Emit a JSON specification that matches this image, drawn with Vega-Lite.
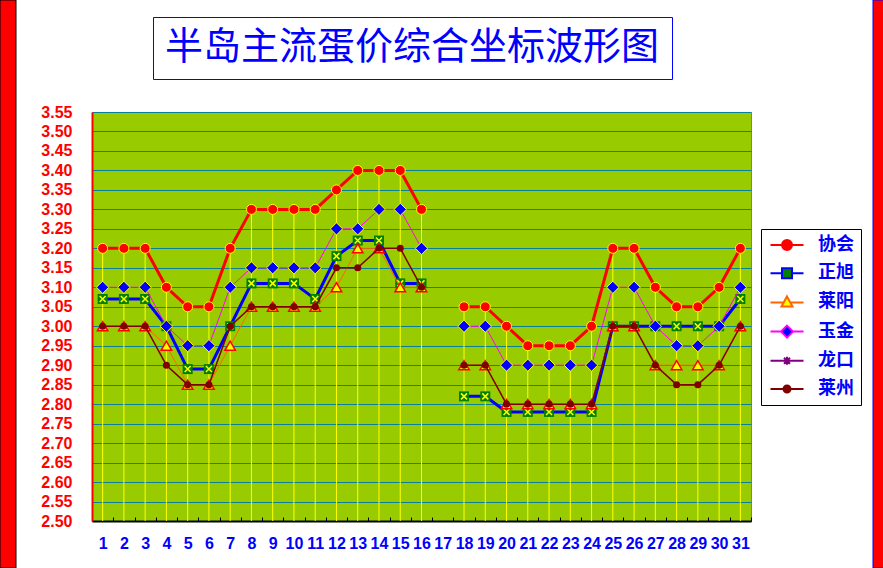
{
  "$schema": "https://vega.github.io/schema/vega-lite/v6.json",
  "width": 659,
  "height": 409,
  "autosize": {"type": "none"},
  "padding": {"left": 92, "top": 112, "right": 132, "bottom": 47},
  "background": "white",
  "config": {
    "view": {"fill": "#99CC00", "stroke": "#808080", "strokeWidth": 1}
  },
  "data": {
    "values": [
      {"day": 1, "协会": 3.20, "正旭": 3.07, "莱阳": 3.00, "玉金": 3.10, "莱州": 3.00},
      {"day": 2, "协会": 3.20, "正旭": 3.07, "莱阳": 3.00, "玉金": 3.10, "莱州": 3.00},
      {"day": 3, "协会": 3.20, "正旭": 3.07, "莱阳": 3.00, "玉金": 3.10, "莱州": 3.00},
      {"day": 4, "协会": 3.10, "正旭": 3.00, "莱阳": 2.95, "玉金": 3.00, "莱州": 2.90},
      {"day": 5, "协会": 3.05, "正旭": 2.89, "莱阳": 2.85, "玉金": 2.95, "莱州": 2.85},
      {"day": 6, "协会": 3.05, "正旭": 2.89, "莱阳": 2.85, "玉金": 2.95, "莱州": 2.85},
      {"day": 7, "协会": 3.20, "正旭": 3.00, "莱阳": 2.95, "玉金": 3.10, "莱州": 3.00},
      {"day": 8, "协会": 3.30, "正旭": 3.11, "莱阳": 3.05, "玉金": 3.15, "莱州": 3.05},
      {"day": 9, "协会": 3.30, "正旭": 3.11, "莱阳": 3.05, "玉金": 3.15, "莱州": 3.05},
      {"day": 10, "协会": 3.30, "正旭": 3.11, "莱阳": 3.05, "玉金": 3.15, "莱州": 3.05},
      {"day": 11, "协会": 3.30, "正旭": 3.07, "莱阳": 3.05, "玉金": 3.15, "莱州": 3.05},
      {"day": 12, "协会": 3.35, "正旭": 3.18, "莱阳": 3.10, "玉金": 3.25, "莱州": 3.15},
      {"day": 13, "协会": 3.40, "正旭": 3.22, "莱阳": 3.20, "玉金": 3.25, "莱州": 3.15},
      {"day": 14, "协会": 3.40, "正旭": 3.22, "莱阳": 3.20, "玉金": 3.30, "莱州": 3.20},
      {"day": 15, "协会": 3.40, "正旭": 3.11, "莱阳": 3.10, "玉金": 3.30, "莱州": 3.20},
      {"day": 16, "协会": 3.30, "正旭": 3.11, "莱阳": 3.10, "玉金": 3.20, "莱州": 3.10},
      {"day": 17, "协会": null, "正旭": null, "莱阳": null, "玉金": null, "莱州": null},
      {"day": 18, "协会": 3.05, "正旭": 2.82, "莱阳": 2.90, "玉金": 3.00, "莱州": 2.90},
      {"day": 19, "协会": 3.05, "正旭": 2.82, "莱阳": 2.90, "玉金": 3.00, "莱州": 2.90},
      {"day": 20, "协会": 3.00, "正旭": 2.78, "莱阳": 2.80, "玉金": 2.90, "莱州": 2.80},
      {"day": 21, "协会": 2.95, "正旭": 2.78, "莱阳": 2.80, "玉金": 2.90, "莱州": 2.80},
      {"day": 22, "协会": 2.95, "正旭": 2.78, "莱阳": 2.80, "玉金": 2.90, "莱州": 2.80},
      {"day": 23, "协会": 2.95, "正旭": 2.78, "莱阳": 2.80, "玉金": 2.90, "莱州": 2.80},
      {"day": 24, "协会": 3.00, "正旭": 2.78, "莱阳": 2.80, "玉金": 2.90, "莱州": 2.80},
      {"day": 25, "协会": 3.20, "正旭": 3.00, "莱阳": 3.00, "玉金": 3.10, "莱州": 3.00},
      {"day": 26, "协会": 3.20, "正旭": 3.00, "莱阳": 3.00, "玉金": 3.10, "莱州": 3.00},
      {"day": 27, "协会": 3.10, "正旭": 3.00, "莱阳": 2.90, "玉金": 3.00, "莱州": 2.90},
      {"day": 28, "协会": 3.05, "正旭": 3.00, "莱阳": 2.90, "玉金": 2.95, "莱州": 2.85},
      {"day": 29, "协会": 3.05, "正旭": 3.00, "莱阳": 2.90, "玉金": 2.95, "莱州": 2.85},
      {"day": 30, "协会": 3.10, "正旭": 3.00, "莱阳": 2.90, "玉金": 3.00, "莱州": 2.90},
      {"day": 31, "协会": 3.20, "正旭": 3.07, "莱阳": 3.00, "玉金": 3.10, "莱州": 3.00}
    ]
  },
  "transform": [
    {"fold": ["协会", "正旭", "莱阳", "玉金", "莱州"], "as": ["series", "price"]}
  ],
  "encoding": {
    "x": {
      "field": "day",
      "type": "ordinal",
      "title": null,
      "scale": {"type": "band", "domain": [1,2,3,4,5,6,7,8,9,10,11,12,13,14,15,16,17,18,19,20,21,22,23,24,25,26,27,28,29,30,31], "paddingInner": 0, "paddingOuter": 0},
      "axis": {
        "title": null,
        "tickBand": "extent",
        "labelAngle": 0,
        "grid": false,
        "domainColor": "#000000",
        "domainWidth": 2,
        "tickColor": "#000000",
        "tickSize": -4,
        "labelColor": "#0000FF",
        "labelFont": "Liberation Sans",
        "labelFontWeight": "bold",
        "labelFontSize": 16,
        "labelPadding": 18,
        "labelOverlap": false
      }
    },
    "y": {
      "field": "price",
      "type": "quantitative",
      "title": null,
      "scale": {"domain": [2.5, 3.55], "nice": false, "zero": false},
      "axis": {
        "title": null,
        "values": [2.5,2.55,2.6,2.65,2.7,2.75,2.8,2.85,2.9,2.95,3,3.05,3.1,3.15,3.2,3.25,3.3,3.35,3.4,3.45,3.5,3.55],
        "format": ".2f",
        "grid": true,
        "gridColor": "#0A7F99",
        "gridWidth": 1,
        "gridOpacity": 1,
        "domainColor": "#FF0000",
        "domainWidth": 2,
        "ticks": false,
        "labelColor": "#FF0000",
        "labelFont": "Liberation Sans",
        "labelFontWeight": "bold",
        "labelFontSize": 16,
        "labelPadding": 20,
        "labelOverlap": false
      }
    }
  },
  "resolve": {"scale": {"fill": "independent", "stroke": "independent", "shape": "independent", "size": "independent"}},
  "layer": [
    {
      "transform": [{"filter": "datum.series === '协会'"}],
      "mark": {"type": "rule", "color": "#FFFF00", "strokeWidth": 1},
      "encoding": {"y2": {"datum": 2.5}}
    },
    {
      "transform": [{"filter": "datum.series === '协会'"}],
      "mark": {"type": "line", "color": "#FF0000", "strokeWidth": 3, "invalid": "break-paths-show-domains"}
    },
    {
      "transform": [{"filter": "datum.series === '协会'"}],
      "mark": {"type": "point", "shape": "circle", "filled": true, "size": 100, "fill": "#FF0000", "stroke": "#FFFF00", "strokeWidth": 1, "opacity": 1}
    },
    {
      "transform": [{"filter": "datum.series === '正旭'"}],
      "mark": {"type": "line", "color": "#0000FF", "strokeWidth": 3, "invalid": "break-paths-show-domains"}
    },
    {
      "transform": [{"filter": "datum.series === '正旭'"}],
      "mark": {"type": "point", "shape": "square", "filled": true, "size": 100, "fill": "#008000", "strokeWidth": 0, "opacity": 1}
    },
    {
      "transform": [{"filter": "datum.series === '正旭'"}],
      "mark": {"type": "point", "shape": "M-0.6,-0.6L0.6,0.6M0.6,-0.6L-0.6,0.6", "filled": false, "size": 100, "stroke": "#FFFF00", "strokeWidth": 1.5, "opacity": 1}
    },
    {
      "transform": [{"filter": "datum.series === '莱阳'"}],
      "mark": {"type": "line", "color": "#FF6600", "strokeWidth": 1, "invalid": "break-paths-show-domains"}
    },
    {
      "transform": [{"filter": "datum.series === '莱阳'"}],
      "mark": {"type": "point", "shape": "triangle-up", "filled": true, "size": 110, "fill": "#FFFF00", "stroke": "#FF0000", "strokeWidth": 1.5, "opacity": 1}
    },
    {
      "transform": [{"filter": "datum.series === '玉金'"}],
      "mark": {"type": "line", "color": "#FF00FF", "strokeWidth": 1, "invalid": "break-paths-show-domains"}
    },
    {
      "transform": [{"filter": "datum.series === '玉金'"}],
      "mark": {"type": "point", "shape": "diamond", "filled": true, "size": 150, "fill": "#0000FF", "stroke": "#FFFF00", "strokeWidth": 1, "opacity": 1}
    },
    {
      "transform": [{"filter": "datum.series === '莱州'"}],
      "mark": {"type": "line", "color": "#800000", "strokeWidth": 1.5, "invalid": "break-paths-show-domains"}
    },
    {
      "transform": [{"filter": "datum.series === '莱州'"}],
      "mark": {"type": "point", "shape": "circle", "filled": true, "size": 50, "fill": "#800000", "strokeWidth": 0, "opacity": 1}
    },
    {
      "transform": [{"filter": "false"}],
      "mark": {"type": "point", "filled": true, "opacity": 1},
      "encoding": {
        "fill": {
          "field": "series",
          "type": "nominal",
          "scale": {"domain": ["协会","正旭","莱阳","玉金","龙口","莱州"], "range": ["#FF0000","#008000","#FFFF00","#0000FF","#800080","#800000"]},
          "legend": {
            "title": null,
            "orient": "none",
            "legendX": 669,
            "legendY": 117,
            "direction": "vertical",
            "strokeColor": "#000000",
            "fillColor": "#FFFFFF",
            "padding": 7,
            "symbolSize": 100,
            "symbolStrokeWidth": 2,
            "symbolOffset": 10,
            "labelOffset": 22,
            "labelFont": "Noto Sans CJK SC",
            "labelFontSize": 18,
            "labelFontWeight": "bold",
            "labelColor": "#0000FF",
            "rowPadding": 10.2,
            "labelLimit": 100
          }
        },
        "stroke": {
          "field": "series",
          "type": "nominal",
          "scale": {"domain": ["协会","正旭","莱阳","玉金","龙口","莱州"], "range": ["#FF0000","#0000FF","#FF6600","#FF00FF","#800080","#800000"]},
          "legend": {"title": null}
        },
        "shape": {
          "field": "series",
          "type": "nominal",
          "scale": {
            "domain": ["协会","正旭","莱阳","玉金","龙口","莱州"],
            "range": [
              "M-3.3,0H-1M1,0H3.3M-1,0A1,1,0,1,0,1,0A1,1,0,1,0,-1,0Z",
              "M-3.3,0H-1M1,0H3.3M-1,-1H1V1H-1Z",
              "M-3.3,0H-0.6M0.6,0H3.3M0,-1.2L1.1,0.8H-1.1Z",
              "M-3.3,0H-1.2M1.2,0H3.3M0,-1.2L1.2,0L0,1.2L-1.2,0Z",
              "M-3.3,0H3.3M-0.6,-0.6L0.6,0.6M0.6,-0.6L-0.6,0.6M0,-0.8V0.8",
              "M-3.3,0H-0.7M0.7,0H3.3M-0.7,0A0.7,0.7,0,1,0,0.7,0A0.7,0.7,0,1,0,-0.7,0Z"
            ]
          },
          "legend": {"title": null}
        }
      }
    },
    {
      "transform": [{"filter": "false"}],
      "mark": {"type": "point", "filled": true, "opacity": 1},
      "encoding": {
        "fill": {
          "field": "day",
          "type": "quantitative",
          "scale": {"domain": [0, 1], "range": ["#FF0000", "#FF0000"]},
          "legend": {
            "title": null,
            "orient": "none",
            "legendX": -92,
            "legendY": -112,
            "direction": "vertical",
            "gradientLength": 568,
            "gradientThickness": 16,
            "gradientStrokeColor": "#000000",
            "gradientStrokeWidth": 1,
            "padding": 0,
            "labelExpr": "''"
          }
        },
        "size": {
          "field": "day",
          "type": "quantitative",
          "scale": {"domain": [0, 2]},
          "legend": {
            "title": "半岛主流蛋价综合坐标波形图",
            "values": [],
            "orient": "none",
            "legendX": 61,
            "legendY": -95,
            "strokeColor": "#0000FF",
            "fillColor": "#FFFFFF",
            "padding": 12,
            "titleFont": "Noto Sans CJK SC",
            "titleFontSize": 38,
            "titleFontWeight": "normal",
            "titleColor": "#0000FF",
            "titleLimit": 700,
            "titlePadding": 0
          }
        }
      }
    },
    {
      "transform": [{"filter": "false"}],
      "mark": {"type": "point", "filled": false, "opacity": 1},
      "encoding": {
        "stroke": {
          "field": "day",
          "type": "quantitative",
          "scale": {"domain": [0, 3], "range": ["#FF0000", "#FF0000"]},
          "legend": {
            "title": null,
            "orient": "none",
            "legendX": 781,
            "legendY": -112,
            "direction": "vertical",
            "gradientLength": 568,
            "gradientThickness": 11,
            "gradientStrokeColor": "#0000FF",
            "gradientStrokeWidth": 1,
            "padding": 0,
            "labelExpr": "''"
          }
        }
      }
    }
  ]
}
